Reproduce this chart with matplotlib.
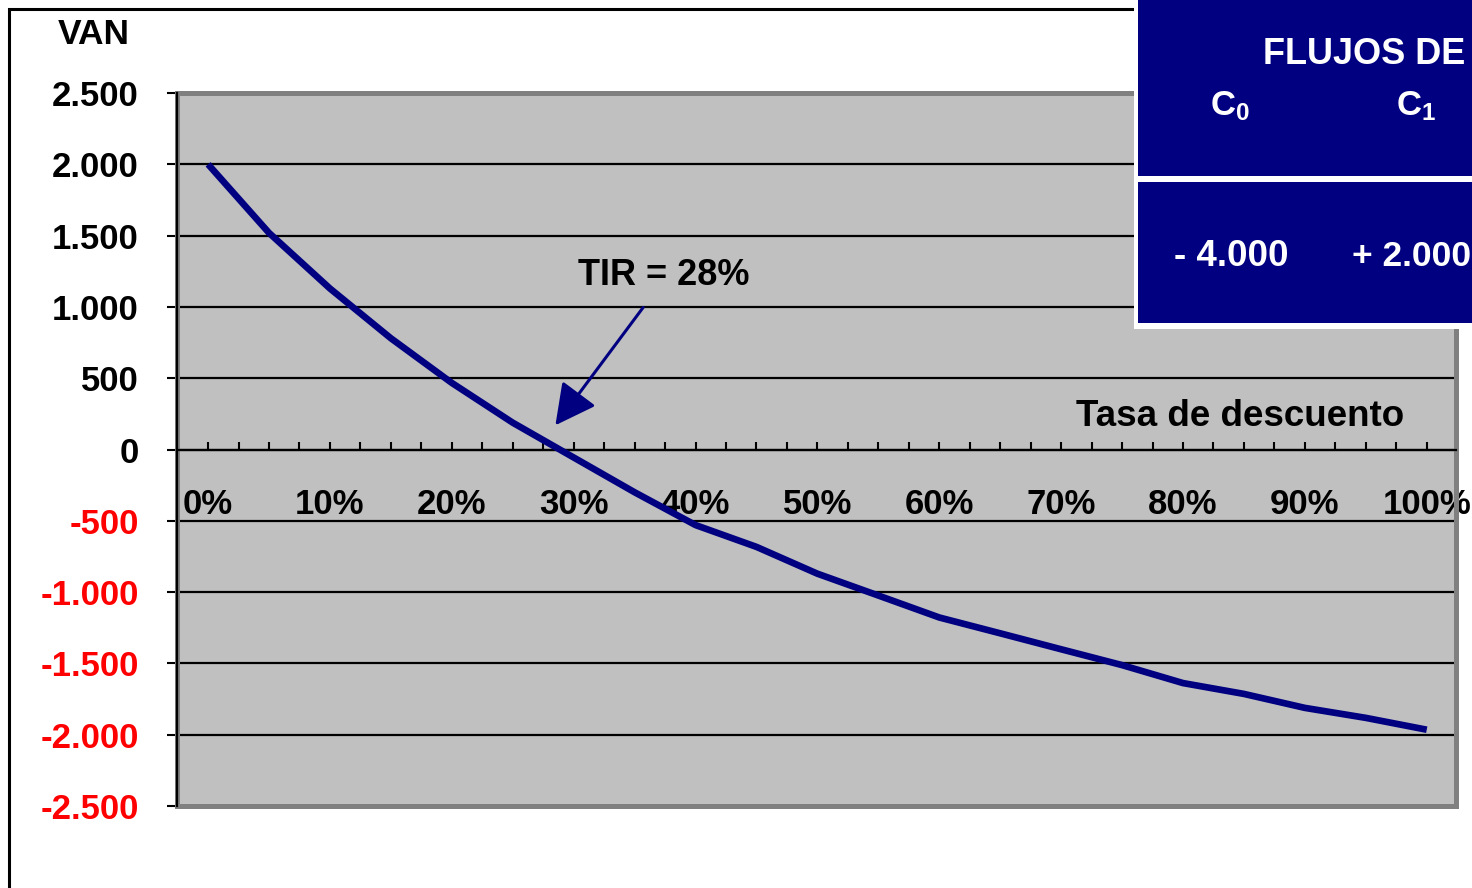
import matplotlib
matplotlib.use("Agg")
import matplotlib.pyplot as plt
from matplotlib.patches import Rectangle
from matplotlib.ticker import FixedLocator, FixedFormatter

plt.rcParams['font.family'] = ['Liberation Sans', 'DejaVu Sans']
plt.rcParams['font.weight'] = 'bold'
plt.rcParams['mathtext.fontset'] = 'custom'
plt.rcParams['mathtext.rm'] = 'Liberation Sans:bold'
plt.rcParams['mathtext.it'] = 'Liberation Sans:bold'
plt.rcParams['mathtext.bf'] = 'Liberation Sans:bold'

# ---- data ----
tasas = [0, 5, 10, 15, 20, 25, 30, 35, 40, 45, 50, 55, 60, 65, 70, 75, 80, 85, 90, 95, 100]
van = [2000, 1519, 1129, 780, 467, 188, -56, -300, -530, -683, -871, -1024,
       -1178, -1289, -1401, -1512, -1638, -1714, -1812, -1882, -1965]
x_tick_pos = [i * 2.5 for i in range(41)]
x_tick_labels = [f"{int(p)}%" if p % 10 == 0 else "" for p in x_tick_pos]
y_ticks = [-2500, -2000, -1500, -1000, -500, 0, 500, 1000, 1500, 2000, 2500]
y_tick_labels = ["-2.500", "-2.000", "-1.500", "-1.000", "-500", "0",
                 "500", "1.000", "1.500", "2.000", "2.500"]
tir = 28
flujos_cab = ["C$_0$", "C$_1$"]
flujos_val = ["- 4.000", "+ 2.000"]

W, H = 1472, 888
fig = plt.figure(figsize=(W / 100, H / 100), dpi=100)
fig.patch.set_facecolor('white')

def fx(x):
    return x / W

def fy(y):
    return 1 - y / H

ax = fig.add_axes([fx(177), fy(806), (1456 - 177) / W, (806 - 93) / H])
ax.set_facecolor('#C0C0C0')
ax.set_xlim(-2.55, 102.4)
ax.set_ylim(-2500, 2500)

# gridlines
for yv in y_ticks[1:-1]:
    ax.axhline(yv, color='black', lw=1.6, zorder=1)

# plot frame (gray) and axis lines
ax.add_patch(Rectangle((0, 0), 1, 1, transform=ax.transAxes, fill=False,
                       edgecolor='#808080', lw=3.6, clip_on=False, zorder=2))
for s in ['top', 'right']:
    ax.spines[s].set_visible(False)
ax.spines['left'].set_color('black')
ax.spines['left'].set_linewidth(1.6)
ax.spines['left'].set_zorder(3)
ax.spines['bottom'].set_position(('data', 0))
ax.spines['bottom'].set_color('black')
ax.spines['bottom'].set_linewidth(1.6)

# line
ax.plot(tasas, van, color='#000080', lw=4.8, solid_joinstyle='miter',
        solid_capstyle='butt', zorder=4)

# x axis ticks
ax.xaxis.set_major_locator(FixedLocator(x_tick_pos))
ax.xaxis.set_major_formatter(FixedFormatter(x_tick_labels))
ax.tick_params(axis='x', direction='in', length=6, width=1.5, pad=28,
               labelsize=25, colors='black')
for lab in ax.get_xticklabels():
    lab.set_fontweight('bold')

# y axis ticks
ax.set_yticks(y_ticks)
ax.set_yticklabels(y_tick_labels)
ax.tick_params(axis='y', direction='out', length=7.5, width=1.5, pad=20,
               labelsize=25)
for lab, v in zip(ax.get_yticklabels(), y_ticks):
    lab.set_fontweight('bold')
    lab.set_color('#FF0000' if v < 0 else 'black')

# annotation
ax.annotate("", xy=(28.5, 170), xytext=(35.7, 996),
            arrowprops=dict(arrowstyle='-|>,head_length=25,head_width=13',
                            mutation_scale=1, color='#000080', lw=2.2,
                            shrinkA=0, shrinkB=0), zorder=5)
ax.text(37.4, 1220, f"TIR = {tir}%", ha='center', va='center',
        fontsize=26, fontweight='bold', color='black', zorder=5)
ax.text(84.7, 231, "Tasa de descuento", ha='center', va='center',
        fontsize=26.5, fontweight='bold', color='black', zorder=5)

# VAN label
fig.text(fx(94), fy(35), "VAN", ha='center', va='center', fontsize=25.5,
         fontweight='bold', color='black')

# outer border
fig.add_artist(Rectangle((fx(9), fy(H + 20)), fx(W + 20 - 9), fy(9) - fy(H + 20),
                         transform=fig.transFigure, fill=False,
                         edgecolor='black', lw=2.2, clip_on=False))

# table of cash flows
fig.add_artist(Rectangle((fx(1134), fy(329)), fx(W - 1134 + 5), fy(0) - fy(329) + 0.01,
                         transform=fig.transFigure, facecolor='white',
                         edgecolor='none', zorder=10))
fig.add_artist(Rectangle((fx(1138), fy(176)), fx(W - 1138 + 5), fy(0) - fy(176) + 0.01,
                         transform=fig.transFigure, facecolor='#000080',
                         edgecolor='none', zorder=11))
fig.add_artist(Rectangle((fx(1138), fy(323)), fx(W - 1138 + 5), fy(182) - fy(323),
                         transform=fig.transFigure, facecolor='#000080',
                         edgecolor='none', zorder=11))
fig.text(fx(1263), fy(54), "FLUJOS DE", ha='left', va='center', fontsize=26,
         fontweight='bold', color='white', zorder=12)
for xc, t in zip([1230, 1416], flujos_cab):
    fig.text(fx(xc), fy(106), t, ha='center', va='center', fontsize=25,
             fontweight='bold', color='white', zorder=12)
fig.text(fx(1231), fy(256), flujos_val[0], ha='center', va='center', fontsize=26.5,
         fontweight='bold', color='white', zorder=12)
fig.text(fx(1352), fy(256), flujos_val[1], ha='left', va='center', fontsize=25.5,
         fontweight='bold', color='white', zorder=12)

fig.savefig("out.png", dpi=100)
